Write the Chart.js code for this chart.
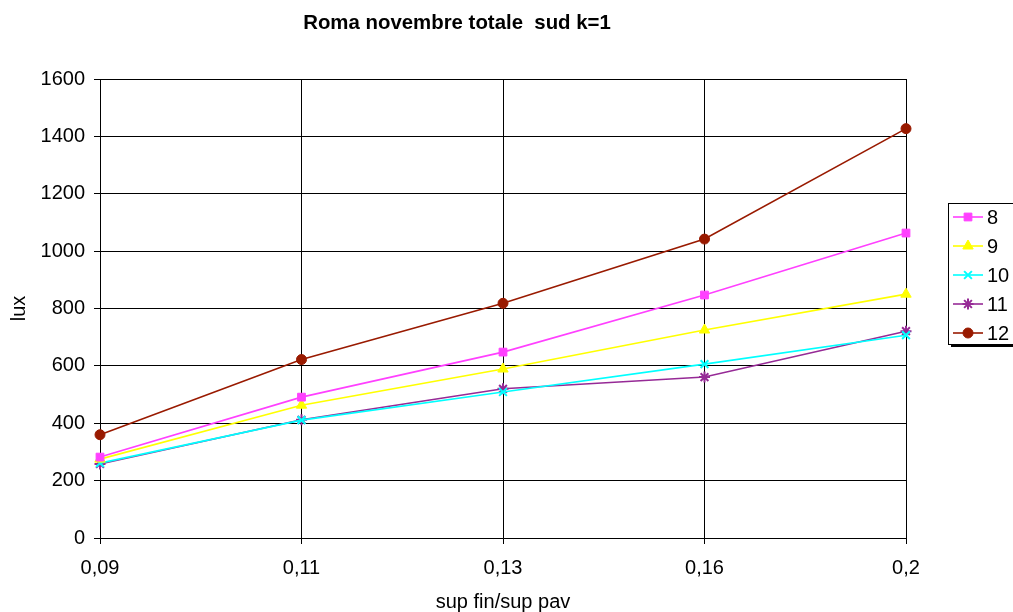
<!DOCTYPE html>
<html><head><meta charset="utf-8">
<script src="https://cdn.jsdelivr.net/npm/chart.js@4"></script>
<style>html,body{margin:0;padding:0;background:#fff}#wrap{width:1013px;height:612px;position:relative}</style>
</head><body><div id="wrap"><canvas id="c" width="1013" height="612"></canvas></div>
<script>
const categories = ['0,09', '0,11', '0,13', '0,16', '0,2'];
const seriesNames = ['8', '9', '10', '11', '12'];
const s8  = [282, 491, 648, 847, 1063];
const s9  = [275, 463, 589, 725, 850];
const s10 = [261, 411, 509, 606, 707];
const s11 = [258, 412, 520, 561, 721];
const s12 = [360, 622, 818, 1042, 1427];
const yTicks = [0, 200, 400, 600, 800, 1000, 1200, 1400, 1600];
const titleText = 'Roma novembre totale  sud k=1';
const xTitle = 'sup fin/sup pav';
const yTitle = 'lux';

const styles = [
  {c:'#ff40ff', p:'rect', r:5.5},
  {c:'#ffff00', p:'triangle', r:6},
  {c:'#00ffff', p:'crossRot', r:5.5},
  {c:'#962a96', p:'star', r:5.5},
  {c:'#991a00', p:'circle', r:5}
];
const values = [s8, s9, s10, s11, s12];

const datasets = values.map((v, i) => ({
  label: seriesNames[i], data: v,
  borderColor: styles[i].c, backgroundColor: styles[i].c,
  pointStyle: styles[i].p, pointRadius: styles[i].r, pointHoverRadius: styles[i].r,
  pointBorderColor: styles[i].c, pointBackgroundColor: styles[i].c,
  pointBorderWidth: (styles[i].p === 'crossRot' || styles[i].p === 'star') ? 2 : 1,
  borderWidth: 1.6, tension: 0, fill: false
}));

const FONT = 'Arial, "Liberation Sans", sans-serif';

const deco = {
  id: 'deco',
  afterDraw(chart) {
    const ctx = chart.ctx;
    ctx.save();
    ctx.fillStyle = '#000';
    ctx.font = 'bold 20.4px ' + FONT;
    ctx.textAlign = 'center';
    ctx.textBaseline = 'middle';
    ctx.fillText(titleText, 457, 23);
    const lx = 948, ly = 203, lw = 70, lh = 141;
    ctx.fillStyle = '#000';
    ctx.fillRect(lx + 3, ly + 3, lw, lh);
    ctx.fillStyle = '#fff';
    ctx.fillRect(lx, ly, lw, lh);
    ctx.strokeStyle = '#000';
    ctx.lineWidth = 1;
    ctx.strokeRect(lx + 0.5, ly + 0.5, lw, lh);
    ctx.font = '20px ' + FONT;
    ctx.textAlign = 'left';
    datasets.forEach((d, i) => {
      const y = 217 + i * 29;
      ctx.strokeStyle = d.borderColor;
      ctx.lineWidth = 1.6;
      ctx.beginPath(); ctx.moveTo(953, y); ctx.lineTo(983, y); ctx.stroke();
      ctx.fillStyle = d.pointBackgroundColor;
      ctx.strokeStyle = d.pointBorderColor;
      ctx.lineWidth = d.pointBorderWidth;
      Chart.helpers.drawPoint(ctx, {pointStyle: d.pointStyle, radius: d.pointRadius, borderWidth: d.pointBorderWidth}, 968, y);
      ctx.fillStyle = '#000';
      ctx.fillText(d.label, 987, y + 1);
    });
    ctx.restore();
  }
};

new Chart(document.getElementById('c'), {
  type: 'line',
  data: { labels: categories, datasets },
  plugins: [deco],
  options: {
    responsive: false, animation: false, devicePixelRatio: 1,
    layout: { padding: { left: 0, right: 107, top: 79, bottom: 0 } },
    plugins: { legend: { display: false }, title: { display: false }, tooltip: { enabled: false } },
    scales: {
      x: {
        offset: false,
        afterFit(s) { s.height = 74; },
        grid: { color: '#000', lineWidth: 1, tickLength: 6, drawTicks: true },
        border: { color: '#000' },
        ticks: { color: '#000', font: { family: FONT, size: 20 }, padding: 12, maxRotation: 0 },
        title: { display: true, text: xTitle, color: '#000', font: { family: FONT, size: 20 }, padding: { top: 0, bottom: -2 } }
      },
      y: {
        min: 0, max: 1600,
        afterFit(s) { s.width = 100; },
        afterBuildTicks(s) { s.ticks = yTicks.map(v => ({ value: v })); },
        grid: { color: '#000', lineWidth: 1, tickLength: 6 },
        border: { color: '#000' },
        ticks: { color: '#000', font: { family: FONT, size: 20 }, padding: 9, callback: v => String(v) },
        title: { display: true, text: yTitle, color: '#000', font: { family: FONT, size: 20 }, padding: { top: 7, bottom: 0 } }
      }
    }
  }
});
</script></body></html>
